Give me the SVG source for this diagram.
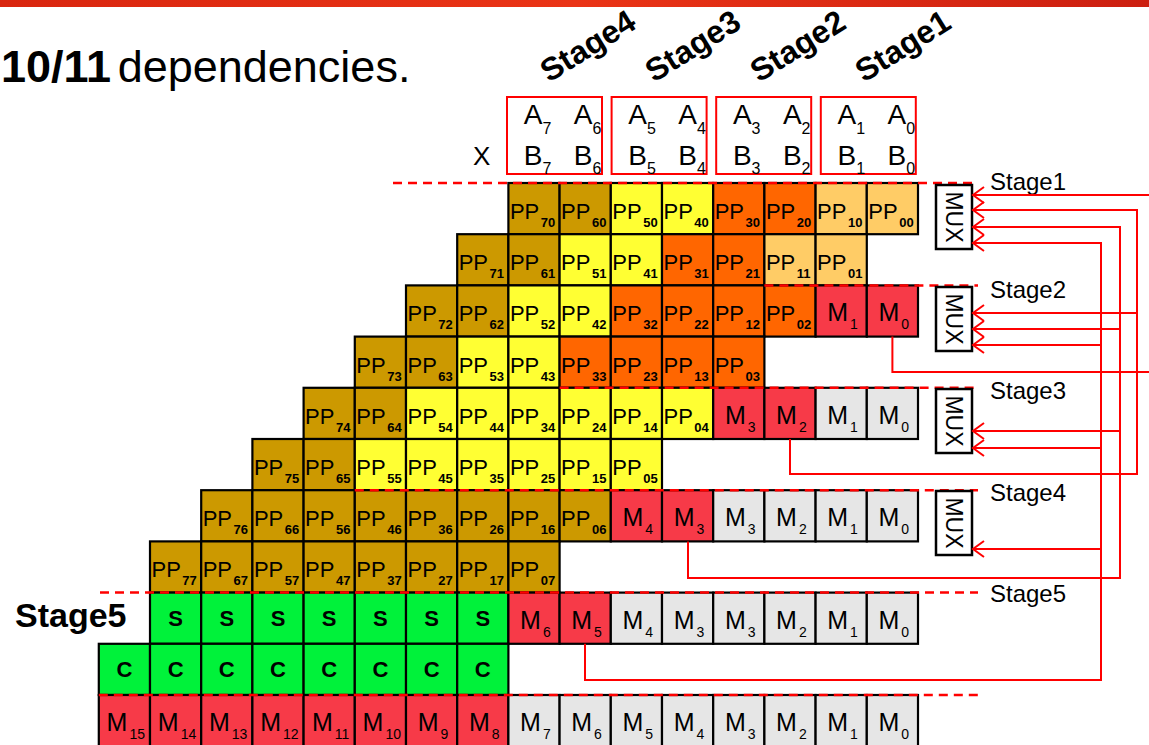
<svg xmlns="http://www.w3.org/2000/svg" width="1149" height="745" viewBox="0 0 1149 745">
<defs>
<linearGradient id="bar" x1="0" y1="0" x2="1" y2="0">
<stop offset="0" stop-color="#D9260F"/><stop offset="0.5" stop-color="#EA3416"/><stop offset="1" stop-color="#CC1F10"/>
</linearGradient>
<marker id="ah" markerUnits="userSpaceOnUse" markerWidth="14" markerHeight="18" refX="12" refY="9" orient="auto">
<path d="M1,1 L12,9 L1,17" fill="none" stroke="#FF0000" stroke-width="2"/>
</marker>
<style>
text{font-family:"Liberation Sans",Arial,sans-serif;fill:#000}
rect.cell{stroke:#000;stroke-width:2.2;width:51.2px;height:51.2px}
.br{fill:#CC9900}.ye{fill:#FFFF33}.or{fill:#FF6600}.lo{fill:#FFCC66}.rd{fill:#F73A48}.gy{fill:#E6E6E6}.gn{fill:#00F23A}
.p{font-size:22px}
.ps{font-size:13px;font-weight:bold}
.m{font-size:25px;text-anchor:middle}
.ms{font-size:14px}
.sc{font-size:22px;font-weight:bold;text-anchor:middle}
.ab{font-size:28px;text-anchor:middle}
.abs{font-size:16px}
.st{font-size:32px;font-weight:bold}
.sl{font-size:24px}
.mux{font-size:23px;text-anchor:middle}
.box{fill:none;stroke:#FF0000;stroke-width:2}
.dash{stroke:#FF0000;stroke-width:2.5;stroke-dasharray:9 6;fill:none}
.wire{stroke:#FF0000;stroke-width:2;fill:none}
.arr{stroke:#FF0000;stroke-width:2;fill:none;marker-end:url(#ah)}
.muxr{fill:#fff;stroke:#000;stroke-width:2.5}
</style>
</defs>
<rect x="0" y="0" width="1149" height="7" fill="url(#bar)"/>
<text x="1" y="82" font-size="45"><tspan font-weight="bold">10/11</tspan><tspan dx="-6"> dependencies.</tspan></text>

<g id="stage-labels-top">
<text class="st" transform="translate(549,83) rotate(-32)">Stage4</text>
<text class="st" transform="translate(654,83) rotate(-32)">Stage3</text>
<text class="st" transform="translate(759,83) rotate(-32)">Stage2</text>
<text class="st" transform="translate(864,83) rotate(-32)">Stage1</text>
</g>

<g id="operands">
<text x="473" y="165" font-size="26">X</text>
<g id="box4"><rect class="box" x="507" y="97" width="95" height="77"/>
<text class="ab" x="537.5" y="124">A<tspan class="abs" dy="10">7</tspan></text>
<text class="ab" x="587.5" y="124">A<tspan class="abs" dy="10">6</tspan></text>
<text class="ab" x="537.5" y="165">B<tspan class="abs" dy="9">7</tspan></text>
<text class="ab" x="587.5" y="165">B<tspan class="abs" dy="9">6</tspan></text></g>
<g id="box3"><rect class="box" x="611.6" y="97" width="95" height="77"/>
<text class="ab" x="642.1" y="124">A<tspan class="abs" dy="10">5</tspan></text>
<text class="ab" x="692.1" y="124">A<tspan class="abs" dy="10">4</tspan></text>
<text class="ab" x="642.1" y="165">B<tspan class="abs" dy="9">5</tspan></text>
<text class="ab" x="692.1" y="165">B<tspan class="abs" dy="9">4</tspan></text></g>
<g id="box2"><rect class="box" x="716.2" y="97" width="95" height="77"/>
<text class="ab" x="746.7" y="124">A<tspan class="abs" dy="10">3</tspan></text>
<text class="ab" x="796.7" y="124">A<tspan class="abs" dy="10">2</tspan></text>
<text class="ab" x="746.7" y="165">B<tspan class="abs" dy="9">3</tspan></text>
<text class="ab" x="796.7" y="165">B<tspan class="abs" dy="9">2</tspan></text></g>
<g id="box1"><rect class="box" x="820.8" y="97" width="95" height="77"/>
<text class="ab" x="851.3" y="124">A<tspan class="abs" dy="10">1</tspan></text>
<text class="ab" x="901.3" y="124">A<tspan class="abs" dy="10">0</tspan></text>
<text class="ab" x="851.3" y="165">B<tspan class="abs" dy="9">1</tspan></text>
<text class="ab" x="901.3" y="165">B<tspan class="abs" dy="9">0</tspan></text></g>
</g>

<g id="cells">
<!-- row 0 -->
<g id="pp70" transform="translate(508.4,183)"><rect class="cell br"/><text class="p" x="1.5" y="36">PP<tspan class="ps" dx="1.5" dy="8">70</tspan></text></g>
<g id="pp60" transform="translate(559.6,183)"><rect class="cell br"/><text class="p" x="1.5" y="36">PP<tspan class="ps" dx="1.5" dy="8">60</tspan></text></g>
<g id="pp50" transform="translate(610.8,183)"><rect class="cell ye"/><text class="p" x="1.5" y="36">PP<tspan class="ps" dx="1.5" dy="8">50</tspan></text></g>
<g id="pp40" transform="translate(662,183)"><rect class="cell ye"/><text class="p" x="1.5" y="36">PP<tspan class="ps" dx="1.5" dy="8">40</tspan></text></g>
<g id="pp30" transform="translate(713.2,183)"><rect class="cell or"/><text class="p" x="1.5" y="36">PP<tspan class="ps" dx="1.5" dy="8">30</tspan></text></g>
<g id="pp20" transform="translate(764.4,183)"><rect class="cell or"/><text class="p" x="1.5" y="36">PP<tspan class="ps" dx="1.5" dy="8">20</tspan></text></g>
<g id="pp10" transform="translate(815.6,183)"><rect class="cell lo"/><text class="p" x="1.5" y="36">PP<tspan class="ps" dx="1.5" dy="8">10</tspan></text></g>
<g id="pp00" transform="translate(866.8,183)"><rect class="cell lo"/><text class="p" x="1.5" y="36">PP<tspan class="ps" dx="1.5" dy="8">00</tspan></text></g>
<!-- row 1 -->
<g id="pp71" transform="translate(457.2,234.2)"><rect class="cell br"/><text class="p" x="1.5" y="36">PP<tspan class="ps" dx="1.5" dy="8">71</tspan></text></g>
<g id="pp61" transform="translate(508.4,234.2)"><rect class="cell br"/><text class="p" x="1.5" y="36">PP<tspan class="ps" dx="1.5" dy="8">61</tspan></text></g>
<g id="pp51" transform="translate(559.6,234.2)"><rect class="cell ye"/><text class="p" x="1.5" y="36">PP<tspan class="ps" dx="1.5" dy="8">51</tspan></text></g>
<g id="pp41" transform="translate(610.8,234.2)"><rect class="cell ye"/><text class="p" x="1.5" y="36">PP<tspan class="ps" dx="1.5" dy="8">41</tspan></text></g>
<g id="pp31" transform="translate(662,234.2)"><rect class="cell or"/><text class="p" x="1.5" y="36">PP<tspan class="ps" dx="1.5" dy="8">31</tspan></text></g>
<g id="pp21" transform="translate(713.2,234.2)"><rect class="cell or"/><text class="p" x="1.5" y="36">PP<tspan class="ps" dx="1.5" dy="8">21</tspan></text></g>
<g id="pp11" transform="translate(764.4,234.2)"><rect class="cell lo"/><text class="p" x="1.5" y="36">PP<tspan class="ps" dx="1.5" dy="8">11</tspan></text></g>
<g id="pp01" transform="translate(815.6,234.2)"><rect class="cell lo"/><text class="p" x="1.5" y="36">PP<tspan class="ps" dx="1.5" dy="8">01</tspan></text></g>
<!-- row 2 -->
<g id="pp72" transform="translate(406,285.4)"><rect class="cell br"/><text class="p" x="1.5" y="36">PP<tspan class="ps" dx="1.5" dy="8">72</tspan></text></g>
<g id="pp62" transform="translate(457.2,285.4)"><rect class="cell br"/><text class="p" x="1.5" y="36">PP<tspan class="ps" dx="1.5" dy="8">62</tspan></text></g>
<g id="pp52" transform="translate(508.4,285.4)"><rect class="cell ye"/><text class="p" x="1.5" y="36">PP<tspan class="ps" dx="1.5" dy="8">52</tspan></text></g>
<g id="pp42" transform="translate(559.6,285.4)"><rect class="cell ye"/><text class="p" x="1.5" y="36">PP<tspan class="ps" dx="1.5" dy="8">42</tspan></text></g>
<g id="pp32" transform="translate(610.8,285.4)"><rect class="cell or"/><text class="p" x="1.5" y="36">PP<tspan class="ps" dx="1.5" dy="8">32</tspan></text></g>
<g id="pp22" transform="translate(662,285.4)"><rect class="cell or"/><text class="p" x="1.5" y="36">PP<tspan class="ps" dx="1.5" dy="8">22</tspan></text></g>
<g id="pp12" transform="translate(713.2,285.4)"><rect class="cell or"/><text class="p" x="1.5" y="36">PP<tspan class="ps" dx="1.5" dy="8">12</tspan></text></g>
<g id="pp02" transform="translate(764.4,285.4)"><rect class="cell or"/><text class="p" x="1.5" y="36">PP<tspan class="ps" dx="1.5" dy="8">02</tspan></text></g>
<g id="r2m1" transform="translate(815.6,285.4)"><rect class="cell rd"/><text class="m" x="27" y="36">M<tspan class="ms" dx="2" dy="8">1</tspan></text></g>
<g id="r2m0" transform="translate(866.8,285.4)"><rect class="cell rd"/><text class="m" x="27" y="36">M<tspan class="ms" dx="2" dy="8">0</tspan></text></g>
<!-- row 3 -->
<g id="pp73" transform="translate(354.8,336.6)"><rect class="cell br"/><text class="p" x="1.5" y="36">PP<tspan class="ps" dx="1.5" dy="8">73</tspan></text></g>
<g id="pp63" transform="translate(406,336.6)"><rect class="cell br"/><text class="p" x="1.5" y="36">PP<tspan class="ps" dx="1.5" dy="8">63</tspan></text></g>
<g id="pp53" transform="translate(457.2,336.6)"><rect class="cell ye"/><text class="p" x="1.5" y="36">PP<tspan class="ps" dx="1.5" dy="8">53</tspan></text></g>
<g id="pp43" transform="translate(508.4,336.6)"><rect class="cell ye"/><text class="p" x="1.5" y="36">PP<tspan class="ps" dx="1.5" dy="8">43</tspan></text></g>
<g id="pp33" transform="translate(559.6,336.6)"><rect class="cell or"/><text class="p" x="1.5" y="36">PP<tspan class="ps" dx="1.5" dy="8">33</tspan></text></g>
<g id="pp23" transform="translate(610.8,336.6)"><rect class="cell or"/><text class="p" x="1.5" y="36">PP<tspan class="ps" dx="1.5" dy="8">23</tspan></text></g>
<g id="pp13" transform="translate(662,336.6)"><rect class="cell or"/><text class="p" x="1.5" y="36">PP<tspan class="ps" dx="1.5" dy="8">13</tspan></text></g>
<g id="pp03" transform="translate(713.2,336.6)"><rect class="cell or"/><text class="p" x="1.5" y="36">PP<tspan class="ps" dx="1.5" dy="8">03</tspan></text></g>
<!-- row 4 -->
<g id="pp74" transform="translate(303.6,387.8)"><rect class="cell br"/><text class="p" x="1.5" y="36">PP<tspan class="ps" dx="1.5" dy="8">74</tspan></text></g>
<g id="pp64" transform="translate(354.8,387.8)"><rect class="cell br"/><text class="p" x="1.5" y="36">PP<tspan class="ps" dx="1.5" dy="8">64</tspan></text></g>
<g id="pp54" transform="translate(406,387.8)"><rect class="cell ye"/><text class="p" x="1.5" y="36">PP<tspan class="ps" dx="1.5" dy="8">54</tspan></text></g>
<g id="pp44" transform="translate(457.2,387.8)"><rect class="cell ye"/><text class="p" x="1.5" y="36">PP<tspan class="ps" dx="1.5" dy="8">44</tspan></text></g>
<g id="pp34" transform="translate(508.4,387.8)"><rect class="cell ye"/><text class="p" x="1.5" y="36">PP<tspan class="ps" dx="1.5" dy="8">34</tspan></text></g>
<g id="pp24" transform="translate(559.6,387.8)"><rect class="cell ye"/><text class="p" x="1.5" y="36">PP<tspan class="ps" dx="1.5" dy="8">24</tspan></text></g>
<g id="pp14" transform="translate(610.8,387.8)"><rect class="cell ye"/><text class="p" x="1.5" y="36">PP<tspan class="ps" dx="1.5" dy="8">14</tspan></text></g>
<g id="pp04" transform="translate(662,387.8)"><rect class="cell ye"/><text class="p" x="1.5" y="36">PP<tspan class="ps" dx="1.5" dy="8">04</tspan></text></g>
<g id="r4m3" transform="translate(713.2,387.8)"><rect class="cell rd"/><text class="m" x="27" y="36">M<tspan class="ms" dx="2" dy="8">3</tspan></text></g>
<g id="r4m2" transform="translate(764.4,387.8)"><rect class="cell rd"/><text class="m" x="27" y="36">M<tspan class="ms" dx="2" dy="8">2</tspan></text></g>
<g id="r4m1" transform="translate(815.6,387.8)"><rect class="cell gy"/><text class="m" x="27" y="36">M<tspan class="ms" dx="2" dy="8">1</tspan></text></g>
<g id="r4m0" transform="translate(866.8,387.8)"><rect class="cell gy"/><text class="m" x="27" y="36">M<tspan class="ms" dx="2" dy="8">0</tspan></text></g>
<!-- row 5 -->
<g id="pp75" transform="translate(252.4,439)"><rect class="cell br"/><text class="p" x="1.5" y="36">PP<tspan class="ps" dx="1.5" dy="8">75</tspan></text></g>
<g id="pp65" transform="translate(303.6,439)"><rect class="cell br"/><text class="p" x="1.5" y="36">PP<tspan class="ps" dx="1.5" dy="8">65</tspan></text></g>
<g id="pp55" transform="translate(354.8,439)"><rect class="cell ye"/><text class="p" x="1.5" y="36">PP<tspan class="ps" dx="1.5" dy="8">55</tspan></text></g>
<g id="pp45" transform="translate(406,439)"><rect class="cell ye"/><text class="p" x="1.5" y="36">PP<tspan class="ps" dx="1.5" dy="8">45</tspan></text></g>
<g id="pp35" transform="translate(457.2,439)"><rect class="cell ye"/><text class="p" x="1.5" y="36">PP<tspan class="ps" dx="1.5" dy="8">35</tspan></text></g>
<g id="pp25" transform="translate(508.4,439)"><rect class="cell ye"/><text class="p" x="1.5" y="36">PP<tspan class="ps" dx="1.5" dy="8">25</tspan></text></g>
<g id="pp15" transform="translate(559.6,439)"><rect class="cell ye"/><text class="p" x="1.5" y="36">PP<tspan class="ps" dx="1.5" dy="8">15</tspan></text></g>
<g id="pp05" transform="translate(610.8,439)"><rect class="cell ye"/><text class="p" x="1.5" y="36">PP<tspan class="ps" dx="1.5" dy="8">05</tspan></text></g>
<!-- row 6 -->
<g id="pp76" transform="translate(201.2,490.2)"><rect class="cell br"/><text class="p" x="1.5" y="36">PP<tspan class="ps" dx="1.5" dy="8">76</tspan></text></g>
<g id="pp66" transform="translate(252.4,490.2)"><rect class="cell br"/><text class="p" x="1.5" y="36">PP<tspan class="ps" dx="1.5" dy="8">66</tspan></text></g>
<g id="pp56" transform="translate(303.6,490.2)"><rect class="cell br"/><text class="p" x="1.5" y="36">PP<tspan class="ps" dx="1.5" dy="8">56</tspan></text></g>
<g id="pp46" transform="translate(354.8,490.2)"><rect class="cell br"/><text class="p" x="1.5" y="36">PP<tspan class="ps" dx="1.5" dy="8">46</tspan></text></g>
<g id="pp36" transform="translate(406,490.2)"><rect class="cell br"/><text class="p" x="1.5" y="36">PP<tspan class="ps" dx="1.5" dy="8">36</tspan></text></g>
<g id="pp26" transform="translate(457.2,490.2)"><rect class="cell br"/><text class="p" x="1.5" y="36">PP<tspan class="ps" dx="1.5" dy="8">26</tspan></text></g>
<g id="pp16" transform="translate(508.4,490.2)"><rect class="cell br"/><text class="p" x="1.5" y="36">PP<tspan class="ps" dx="1.5" dy="8">16</tspan></text></g>
<g id="pp06" transform="translate(559.6,490.2)"><rect class="cell br"/><text class="p" x="1.5" y="36">PP<tspan class="ps" dx="1.5" dy="8">06</tspan></text></g>
<g id="r6m4" transform="translate(610.8,490.2)"><rect class="cell rd"/><text class="m" x="27" y="36">M<tspan class="ms" dx="2" dy="8">4</tspan></text></g>
<g id="r6m3a" transform="translate(662,490.2)"><rect class="cell rd"/><text class="m" x="27" y="36">M<tspan class="ms" dx="2" dy="8">3</tspan></text></g>
<g id="r6m3b" transform="translate(713.2,490.2)"><rect class="cell gy"/><text class="m" x="27" y="36">M<tspan class="ms" dx="2" dy="8">3</tspan></text></g>
<g id="r6m2" transform="translate(764.4,490.2)"><rect class="cell gy"/><text class="m" x="27" y="36">M<tspan class="ms" dx="2" dy="8">2</tspan></text></g>
<g id="r6m1" transform="translate(815.6,490.2)"><rect class="cell gy"/><text class="m" x="27" y="36">M<tspan class="ms" dx="2" dy="8">1</tspan></text></g>
<g id="r6m0" transform="translate(866.8,490.2)"><rect class="cell gy"/><text class="m" x="27" y="36">M<tspan class="ms" dx="2" dy="8">0</tspan></text></g>
<!-- row 7 -->
<g id="pp77" transform="translate(150,541.4)"><rect class="cell br"/><text class="p" x="1.5" y="36">PP<tspan class="ps" dx="1.5" dy="8">77</tspan></text></g>
<g id="pp67" transform="translate(201.2,541.4)"><rect class="cell br"/><text class="p" x="1.5" y="36">PP<tspan class="ps" dx="1.5" dy="8">67</tspan></text></g>
<g id="pp57" transform="translate(252.4,541.4)"><rect class="cell br"/><text class="p" x="1.5" y="36">PP<tspan class="ps" dx="1.5" dy="8">57</tspan></text></g>
<g id="pp47" transform="translate(303.6,541.4)"><rect class="cell br"/><text class="p" x="1.5" y="36">PP<tspan class="ps" dx="1.5" dy="8">47</tspan></text></g>
<g id="pp37" transform="translate(354.8,541.4)"><rect class="cell br"/><text class="p" x="1.5" y="36">PP<tspan class="ps" dx="1.5" dy="8">37</tspan></text></g>
<g id="pp27" transform="translate(406,541.4)"><rect class="cell br"/><text class="p" x="1.5" y="36">PP<tspan class="ps" dx="1.5" dy="8">27</tspan></text></g>
<g id="pp17" transform="translate(457.2,541.4)"><rect class="cell br"/><text class="p" x="1.5" y="36">PP<tspan class="ps" dx="1.5" dy="8">17</tspan></text></g>
<g id="pp07" transform="translate(508.4,541.4)"><rect class="cell br"/><text class="p" x="1.5" y="36">PP<tspan class="ps" dx="1.5" dy="8">07</tspan></text></g>
<!-- row 8 -->
<g id="s6" transform="translate(150,592.6)"><rect class="cell gn"/><text class="sc" x="25.6" y="33">S</text></g>
<g id="s5" transform="translate(201.2,592.6)"><rect class="cell gn"/><text class="sc" x="25.6" y="33">S</text></g>
<g id="s4" transform="translate(252.4,592.6)"><rect class="cell gn"/><text class="sc" x="25.6" y="33">S</text></g>
<g id="s3" transform="translate(303.6,592.6)"><rect class="cell gn"/><text class="sc" x="25.6" y="33">S</text></g>
<g id="s2" transform="translate(354.8,592.6)"><rect class="cell gn"/><text class="sc" x="25.6" y="33">S</text></g>
<g id="s1" transform="translate(406,592.6)"><rect class="cell gn"/><text class="sc" x="25.6" y="33">S</text></g>
<g id="s0" transform="translate(457.2,592.6)"><rect class="cell gn"/><text class="sc" x="25.6" y="33">S</text></g>
<g id="r8m6" transform="translate(508.4,592.6)"><rect class="cell rd"/><text class="m" x="27" y="36">M<tspan class="ms" dx="2" dy="8">6</tspan></text></g>
<g id="r8m5" transform="translate(559.6,592.6)"><rect class="cell rd"/><text class="m" x="27" y="36">M<tspan class="ms" dx="2" dy="8">5</tspan></text></g>
<g id="r8m4" transform="translate(610.8,592.6)"><rect class="cell gy"/><text class="m" x="27" y="36">M<tspan class="ms" dx="2" dy="8">4</tspan></text></g>
<g id="r8m3a" transform="translate(662,592.6)"><rect class="cell gy"/><text class="m" x="27" y="36">M<tspan class="ms" dx="2" dy="8">3</tspan></text></g>
<g id="r8m3b" transform="translate(713.2,592.6)"><rect class="cell gy"/><text class="m" x="27" y="36">M<tspan class="ms" dx="2" dy="8">3</tspan></text></g>
<g id="r8m2" transform="translate(764.4,592.6)"><rect class="cell gy"/><text class="m" x="27" y="36">M<tspan class="ms" dx="2" dy="8">2</tspan></text></g>
<g id="r8m1" transform="translate(815.6,592.6)"><rect class="cell gy"/><text class="m" x="27" y="36">M<tspan class="ms" dx="2" dy="8">1</tspan></text></g>
<g id="r8m0" transform="translate(866.8,592.6)"><rect class="cell gy"/><text class="m" x="27" y="36">M<tspan class="ms" dx="2" dy="8">0</tspan></text></g>
<!-- row 9 -->
<g id="c7" transform="translate(98.8,643.8)"><rect class="cell gn"/><text class="sc" x="25.6" y="33">C</text></g>
<g id="c6" transform="translate(150,643.8)"><rect class="cell gn"/><text class="sc" x="25.6" y="33">C</text></g>
<g id="c5" transform="translate(201.2,643.8)"><rect class="cell gn"/><text class="sc" x="25.6" y="33">C</text></g>
<g id="c4" transform="translate(252.4,643.8)"><rect class="cell gn"/><text class="sc" x="25.6" y="33">C</text></g>
<g id="c3" transform="translate(303.6,643.8)"><rect class="cell gn"/><text class="sc" x="25.6" y="33">C</text></g>
<g id="c2" transform="translate(354.8,643.8)"><rect class="cell gn"/><text class="sc" x="25.6" y="33">C</text></g>
<g id="c1" transform="translate(406,643.8)"><rect class="cell gn"/><text class="sc" x="25.6" y="33">C</text></g>
<g id="c0" transform="translate(457.2,643.8)"><rect class="cell gn"/><text class="sc" x="25.6" y="33">C</text></g>
<!-- row 10 -->
<g id="m15" transform="translate(98.8,695)"><rect class="cell rd"/><text class="m" x="27" y="36">M<tspan class="ms" dx="2" dy="8">15</tspan></text></g>
<g id="m14" transform="translate(150,695)"><rect class="cell rd"/><text class="m" x="27" y="36">M<tspan class="ms" dx="2" dy="8">14</tspan></text></g>
<g id="m13" transform="translate(201.2,695)"><rect class="cell rd"/><text class="m" x="27" y="36">M<tspan class="ms" dx="2" dy="8">13</tspan></text></g>
<g id="m12" transform="translate(252.4,695)"><rect class="cell rd"/><text class="m" x="27" y="36">M<tspan class="ms" dx="2" dy="8">12</tspan></text></g>
<g id="m11" transform="translate(303.6,695)"><rect class="cell rd"/><text class="m" x="27" y="36">M<tspan class="ms" dx="2" dy="8">11</tspan></text></g>
<g id="m10" transform="translate(354.8,695)"><rect class="cell rd"/><text class="m" x="27" y="36">M<tspan class="ms" dx="2" dy="8">10</tspan></text></g>
<g id="m9" transform="translate(406,695)"><rect class="cell rd"/><text class="m" x="27" y="36">M<tspan class="ms" dx="2" dy="8">9</tspan></text></g>
<g id="m8" transform="translate(457.2,695)"><rect class="cell rd"/><text class="m" x="27" y="36">M<tspan class="ms" dx="2" dy="8">8</tspan></text></g>
<g id="m7" transform="translate(508.4,695)"><rect class="cell gy"/><text class="m" x="27" y="36">M<tspan class="ms" dx="2" dy="8">7</tspan></text></g>
<g id="m6" transform="translate(559.6,695)"><rect class="cell gy"/><text class="m" x="27" y="36">M<tspan class="ms" dx="2" dy="8">6</tspan></text></g>
<g id="m5" transform="translate(610.8,695)"><rect class="cell gy"/><text class="m" x="27" y="36">M<tspan class="ms" dx="2" dy="8">5</tspan></text></g>
<g id="m4" transform="translate(662,695)"><rect class="cell gy"/><text class="m" x="27" y="36">M<tspan class="ms" dx="2" dy="8">4</tspan></text></g>
<g id="m3" transform="translate(713.2,695)"><rect class="cell gy"/><text class="m" x="27" y="36">M<tspan class="ms" dx="2" dy="8">3</tspan></text></g>
<g id="m2" transform="translate(764.4,695)"><rect class="cell gy"/><text class="m" x="27" y="36">M<tspan class="ms" dx="2" dy="8">2</tspan></text></g>
<g id="m1" transform="translate(815.6,695)"><rect class="cell gy"/><text class="m" x="27" y="36">M<tspan class="ms" dx="2" dy="8">1</tspan></text></g>
<g id="m0" transform="translate(866.8,695)"><rect class="cell gy"/><text class="m" x="27" y="36">M<tspan class="ms" dx="2" dy="8">0</tspan></text></g>
</g>

<g id="stage-lines">
<path class="dash" d="M393,183 H978"/>
<path class="dash" d="M764.4,285.4 H978"/>
<path class="dash" d="M559.6,387.8 H978"/>
<path class="dash" d="M354.8,490.2 H978"/>
<path class="dash" d="M100,592.6 H978"/>
<path class="dash" d="M98.8,695 H978"/>
</g>

<g id="mux1"><rect class="muxr" x="936" y="185" width="36" height="64"/><text class="mux" transform="translate(954,217) rotate(90)" y="8">MUX</text></g>
<g id="mux2"><rect class="muxr" x="936" y="287" width="36" height="64"/><text class="mux" transform="translate(954,319) rotate(90)" y="8">MUX</text></g>
<g id="mux3"><rect class="muxr" x="936" y="389" width="36" height="64"/><text class="mux" transform="translate(954,421) rotate(90)" y="8">MUX</text></g>
<g id="mux4"><rect class="muxr" x="936" y="491" width="36" height="64"/><text class="mux" transform="translate(954,523) rotate(90)" y="8">MUX</text></g>

<g id="stage-labels-right">
<text class="sl" x="990" y="190">Stage1</text>
<text class="sl" x="990" y="298">Stage2</text>
<text class="sl" x="990" y="399">Stage3</text>
<text class="sl" x="990" y="501">Stage4</text>
<text class="sl" x="990" y="602">Stage5</text>
</g>
<text x="15" y="627" class="st" style="font-size:34px">Stage5</text>

<g id="connectors">
<path class="arr" d="M1149,195 H973"/>
<path class="wire" d="M892.4,336.6 V372 H1149"/>
<path class="arr" d="M790,439 V474 H1137 V210 H973"/>
<path class="arr" d="M1137,313 H973"/>
<path class="arr" d="M688,541.4 V578 H1120 V227 H973"/>
<path class="arr" d="M1120,329 H973"/>
<path class="arr" d="M1120,431 H973"/>
<path class="arr" d="M585,643.8 V680 H1101 V243 H973"/>
<path class="arr" d="M1101,345 H973"/>
<path class="arr" d="M1101,448 H973"/>
<path class="arr" d="M1101,549 H973"/>
</g>
</svg>
